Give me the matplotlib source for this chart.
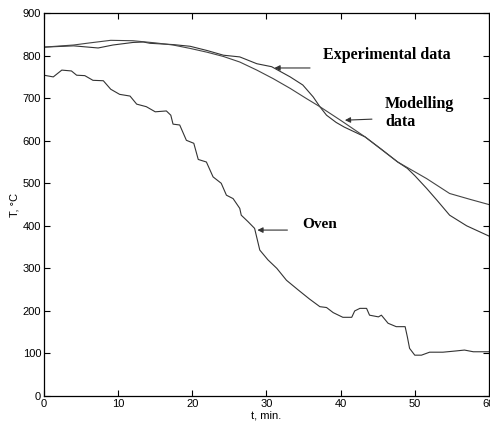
import numpy as np
import matplotlib
matplotlib.use("Agg")
from matplotlib import pyplot as plt

# time (min) and temperature (C)
t_oven = [0, 1.25, 2.4, 3.7, 4.4, 5.5, 6.6, 8.0, 9.0, 10.2, 11.6, 12.5, 13.8, 15.0, 16.5,
          17.1, 17.4, 18.3, 19.2, 20.2, 20.8, 21.9, 22.8, 23.9, 24.6, 25.5, 26.4, 26.6,
          27.5, 28.4, 29.1, 30.2, 31.4, 32.7, 34.3, 35.8, 37.2, 38.1, 39.0, 40.3, 41.5,
          41.9, 42.6, 43.5, 43.9, 45.1, 45.5, 46.4, 47.5, 48.7, 49.0, 49.3, 50.0, 50.9,
          52.0, 53.8, 55.6, 56.7, 57.9, 60]
T_oven = [754, 750, 766, 764, 754, 753, 742, 741, 721, 709, 705, 686, 680, 668, 670,
          660, 639, 637, 601, 594, 556, 550, 515, 500, 472, 464, 441, 425,
          410, 394, 343, 320, 300, 272, 249, 228, 210, 208, 196, 185, 185,
          200, 206, 206, 190, 186, 190, 171, 163, 163, 139, 112, 96, 96,
          103, 103, 106, 108, 104, 104]

t_exp = [0, 4, 7.3, 9.3, 12, 13.4, 14.3, 17.4, 19.7, 22, 24.2, 26.4, 28.7, 30.7, 33.2,
         34.9, 36.3, 37.2, 38.1, 39.4, 40.5, 43.3, 45.5, 47.7, 49, 50, 51.6, 53, 54.7,
         57, 60]
T_exp = [820, 823, 818, 825, 831, 832, 829, 826, 822, 812, 801, 797, 781, 774, 750,
         731, 703, 680, 660, 643, 632, 609, 580, 550, 535, 518, 488, 460, 425,
         400, 376]

t_mod = [0, 4, 6.2, 9, 12, 15, 17.4, 19.7, 22, 24.2, 26.4, 28.7, 30.9, 33.2, 35.4,
         37.2, 40, 43.3, 47.7, 51.6, 54.7, 57.5, 60]
T_mod = [820, 825, 830, 836, 835, 830, 825, 817, 808, 798, 785, 766, 746, 723, 699,
         680, 648, 609, 550, 511, 476, 462, 450]

fig = plt.figure(figsize=(4.9, 4.25), dpi=100)
ax = fig.add_axes([0.0898, 0.0682, 0.908, 0.901])

ax.plot(t_oven, T_oven, color='#333333', lw=0.8)
ax.plot(t_exp, T_exp, color='#333333', lw=0.8)
ax.plot(t_mod, T_mod, color='#444444', lw=0.8)

ax.set_xlim(0, 60)
ax.set_ylim(0, 900)
ax.set_xticks(range(0, 61, 10))
ax.set_yticks(range(0, 901, 100))
ax.tick_params(direction='in', top=True, right=True, length=4, width=0.8,
               labelsize=8, pad=2)
for lab in ax.get_xticklabels() + ax.get_yticklabels():
    lab.set_family('Liberation Sans')
for s in ax.spines.values():
    s.set_linewidth(0.9)

ax.set_xlabel('t, min.', fontsize=8, family='Liberation Sans', labelpad=1)
ax.set_ylabel('T, °C', fontsize=8, family='Liberation Sans', labelpad=2)

# labels with arrows
tfont = dict(family='Liberation Serif', fontweight='bold', fontsize=11.5)
ax.text(37.6, 801, 'Experimental data', ha='left', va='center', **tfont)
ax.annotate('', xy=(30.7, 771), xytext=(36.25, 771),
            arrowprops=dict(arrowstyle='-|>', color='#333333', lw=0.8, mutation_scale=8))
ax.text(46.0, 665, 'Modelling\ndata', ha='left', va='center', linespacing=1.1, **tfont)
ax.annotate('', xy=(40.2, 648), xytext=(44.6, 651),
            arrowprops=dict(arrowstyle='-|>', color='#333333', lw=0.8, mutation_scale=8))
ax.text(34.8, 402, 'Oven', ha='left', va='center', family='Liberation Serif',
        fontweight='bold', fontsize=11)
ax.annotate('', xy=(28.4, 390), xytext=(33.2, 390),
            arrowprops=dict(arrowstyle='-|>', color='#333333', lw=0.8, mutation_scale=8))

fig.savefig('out.png', dpi=100)
